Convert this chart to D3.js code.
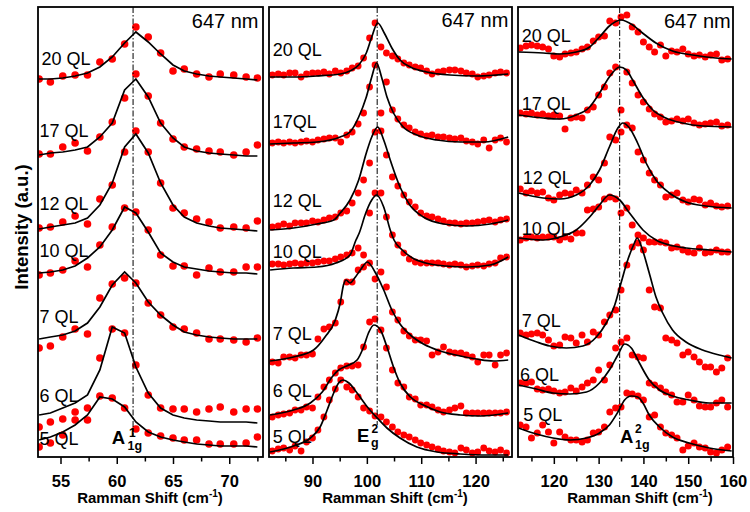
<!DOCTYPE html>
<html>
<head>
<meta charset="utf-8">
<script src="https://cdn.jsdelivr.net/npm/d3@7"></script>
<style>
  body { margin: 0; background: #fff; }
  text { font-family: "Liberation Sans", Arial, sans-serif; }
</style>
</head>
<body>
<svg id="chart" width="750" height="512"></svg>
<script>
"use strict"
/*
 * Raman spectra at 647 nm, stacked by film thickness, for three phonon modes
 * Red dots: measured spectra, black lines: fitted profiles */

// ---- data ----
var layers   = ["20 QL", "17 QL", "12 QL", "10 QL", "7 QL", "6 QL", "5 QL"];
var layersEg = ["20 QL", "17QL", "12 QL", "10 QL", "7 QL", "6 QL", "5 QL"];

// A1g(1) panel, fit evaluated at the measured shifts
var a1Shift = [53.1, 54.1, 55.2, 56.3, 57.4, 58.5, 59.6, 60.7, 61.7, 62.8, 63.9, 65.0, 66.0, 67.1, 68.2, 69.2, 70.4, 71.5, 72.5];
var a1Dots = [
  [378, 375, 381, 382, 382, 395, 398, 413, 430, 420, 404, 386, 388, 383, 380, 383, 382, 380, 379],
  [303, 303, 310, 314, 306, 320, 335, 359, 383, 361, 334, 318, 310, 308, 306, 305, 302, 305, 312],
  [229, 230, 235, 241, 233, 258, 272, 305, 326, 305, 274, 249, 244, 238, 235, 229, 230, 229, 236],
  [182, 184, 187, 196, 190, 212, 230, 249, 245, 227, 202, 191, 191, 182, 189, 185, 185, 190, 190],
  [109, 111, 120, 128, 123, 159, 173, 179, 174, 154, 142, 130, 128, 124, 118, 118, 117, 115, 119],
  [30, 35, 38, 45, 49, 99, 128, 124, 92, 62, 49, 48, 48, 45, 48, 50, 45, 48, 48],
  [10, 14, 22, 37, 37, 61, 59, 49, 28, 24, 21, 19, 17, 17, 13, 13, 13, 14, 20]
];
var a1Fit = [
  [378, 378, 379, 381, 384, 390, 400, 414, 425, 415, 403, 392, 386, 383, 381, 380, 379, 378, 377],
  [302, 304, 305, 307, 310, 320, 334, 367, 378, 360, 334, 319, 310, 306, 304, 303, 302, 301, 301],
  [228, 230, 232, 234, 239, 252, 274, 310, 323, 304, 274, 252, 240, 234, 231, 229, 228, 227, 226],
  [184, 185, 187, 191, 199, 210, 227, 250, 244, 225, 204, 195, 190, 188, 186, 185, 184, 184, 183],
  [118, 120, 122, 126, 134, 150, 172, 185, 174, 155, 142, 132, 125, 122, 120, 119, 118, 118, 118],
  [42, 44, 49, 54, 62, 87, 130, 124, 90, 64, 49, 42, 39, 37, 36, 35, 35, 35, 34],
  [17, 20, 25, 32, 42, 60, 58, 50, 35, 25, 20, 17, 15, 13, 12, 11, 11, 11, 10]
];
var a1Mode = 61.45;

// Eg(2) panel
var egShift = [82.6, 83.7, 84.7, 85.8, 86.8, 87.9, 88.9, 90.0, 91.0, 92.1, 93.1, 94.2, 95.2, 96.3, 97.3, 98.4, 99.4, 100.5, 101.5, 102.6, 103.6,
               104.7, 105.7, 106.8, 107.8, 108.9, 109.9, 111.0, 112.0, 113.1, 114.1, 115.2, 116.2, 117.3, 118.3, 119.4, 120.4, 121.5, 122.5, 123.6, 124.6, 125.7];
var egDots = [
  [382, 383, 382, 384, 384, 380, 383, 384, 384, 385, 383, 386, 384, 386, 389, 391, 399, 419, 434, 410, 404, 401, 398, 394, 392, 390, 389, 386, 383, 385, 386, 387, 387, 386, 384, 383, 380, 381, 382, 384, 385, 384],
  [314, 315, 314, 315, 314, 315, 316, 315, 317, 318, 319, 319, 315, 322, 325, 333, 344, 370, 392, 344, 375, 347, 338, 332, 329, 325, 323, 321, 322, 320, 320, 319, 318, 319, 316, 315, 313, 317, 309, 317, 319, 315],
  [230, 231, 233, 231, 234, 234, 234, 236, 235, 237, 239, 240, 244, 246, 254, 264, 277, 294, 325, 326, 302, 280, 271, 262, 255, 250, 244, 241, 240, 238, 236, 234, 234, 233, 234, 234, 235, 236, 237, 235, 237, 238],
  [193, 193, 192, 193, 194, 193, 194, 194, 195, 196, 196, 198, 200, 202, 204, 209, 202, 244, 264, 264, 240, 222, 212, 204, 198, 195, 194, 194, 194, 194, 193, 192, 193, 192, 190, 191, 192, 191, 193, 194, 199, 200],
  [95, 94, 100, 100, 99, 102, 102, 103, 118, 128, 130, 134, 155, 175, 175, 187, 190, 194, 178, 185, 170, 145, 137, 126, 121, 117, 117, 116, 102, 105, 110, 105, 104, 104, 102, 100, 95, 102, 102, 92, 102, 104],
  [40, 42, 43, 44, 47, 47, 50, 49, 60, 70, 77, 84, 89, 91, 91, 92, 110, 135, 138, 127, 109, 87, 74, 70, 60, 58, 52, 52, 50, 47, 45, 47, 49, 51, 44, 44, 44, 44, 44, 44, 44, 45],
  [6, 8, 9, 7, 11, 6, 15, 19, 27, 40, 57, 68, 77, 70, 67, 60, 49, 46, 41, 40, 35, 30, 25, 22, 20, 17, 14, 12, 10, 8, 6, 5, 4, 9, 7, 4, 5, 9, 6, 5, 7, 4]
];
var egFit = [
  [[82.2, 380], [86.5, 380], [90.8, 381], [95.1, 383], [96.9, 386], [98.5, 392], [99.9, 404], [100.9, 420], [102.0, 434], [103.2, 424], [104.6, 409], [106.1, 397], [108.0, 390], [111.0, 385], [115.3, 382], [120.2, 381], [126.0, 383]],
  [[82.2, 313], [86.5, 314], [90.8, 315], [95.1, 320], [96.9, 325], [98.5, 340], [99.9, 360], [100.9, 380], [101.8, 394], [102.7, 380], [103.7, 360], [104.9, 344], [106.7, 330], [109.2, 322], [112.9, 317], [117.2, 315], [121.5, 315], [126.0, 320]],
  [[82.2, 227], [86.5, 229], [90.8, 233], [93.9, 237], [95.1, 244], [96.9, 257], [98.5, 277], [99.9, 304], [100.9, 320], [102.0, 330], [103.1, 317], [104.3, 297], [106.1, 270], [107.9, 252], [110.4, 240], [114.1, 233], [118.4, 231], [122.7, 233], [126.0, 237]],
  [[82.2, 187], [86.5, 189], [90.8, 190], [94.3, 194], [96.9, 202], [98.0, 217], [98.6, 224], [99.8, 244], [100.9, 257], [101.8, 262], [103.1, 250], [104.3, 227], [105.0, 217], [106.5, 207], [108.4, 199], [110.8, 194], [114.5, 191], [118.4, 190], [122.7, 192], [126.0, 200]],
  [[82.2, 96], [86.5, 100], [90.2, 107], [92.3, 120], [94.2, 137], [95.1, 154], [95.7, 172], [96.2, 177], [96.9, 174], [97.9, 180], [98.8, 187], [100.1, 195], [101.5, 185], [103.1, 167], [104.6, 147], [106.1, 133], [108.0, 122], [110.4, 113], [113.5, 106], [117.2, 101], [120.2, 98], [123.3, 96], [126.0, 97]],
  [[82.2, 42], [86.5, 47], [89.6, 54], [91.8, 65], [93.6, 80], [94.8, 87], [96.3, 91], [98.2, 97], [99.4, 110], [100.3, 124], [101.3, 132], [102.5, 127], [103.7, 110], [104.9, 90], [106.1, 74], [108.0, 60], [110.4, 52], [113.5, 45], [117.2, 42], [120.9, 41], [126.0, 44]],
  [[82.2, 5], [86.5, 11], [89.6, 19], [91.4, 30], [92.7, 47], [93.9, 64], [94.8, 74], [95.6, 77], [96.7, 74], [98.2, 64], [100.1, 50], [101.9, 39], [103.7, 29], [106.1, 19], [109.2, 10], [112.9, 5], [117.2, 3], [122.1, 2], [126.0, 2]]
];
var egMode = 101.9;

// A1g(2) panel
var a2Shift = [112.5, 113.8, 115.0, 116.3, 117.5, 118.8, 120.0, 121.3, 122.5, 123.8, 125.0, 126.3, 127.5, 128.8, 130.0, 131.3, 132.5, 133.8, 135.0,
               136.3, 137.5, 138.8, 140.0, 141.3, 142.5, 143.8, 145.0, 146.3, 147.5, 148.8, 150.0, 151.3, 152.5, 153.8, 155.0, 156.3, 157.5, 158.8];
var a2Dots = [
  [409, 411, 412, 411, 410, 408, 401, 400, 403, 404, 405, 408, 410, 416, 420, 421, 436, 434, 440, 442, 430, 425, 415, 410, 405, 412, 401, 406, 405, 408, 403, 401, 402, 400, 402, 403, 397, 398],
  [344, 343, 344, 342, 343, 341, 342, 341, 328, 339, 340, 339, 347, 350, 362, 370, 384, 390, 347, 385, 374, 362, 355, 348, 343, 340, 335, 336, 338, 336, 338, 334, 332, 333, 334, 335, 331, 332],
  [268, 264, 266, 264, 265, 259, 257, 262, 264, 263, 267, 264, 272, 280, 277, 294, 320, 317, 325, 332, 329, 305, 297, 284, 277, 272, 260, 262, 264, 257, 255, 258, 257, 252, 254, 251, 250, 251],
  [217, 219, 220, 219, 220, 220, 220, 217, 220, 218, 224, 224, 247, 248, 250, 258, 260, 258, 244, 249, 232, 222, 219, 215, 215, 215, 214, 209, 210, 207, 205, 204, 209, 204, 205, 207, 205, 205],
  [124, 122, 123, 124, 122, 117, 111, 112, 120, 119, 114, 122, 115, 125, 122, 135, 142, 147, 167, 192, 210, 214, 207, 167, 150, 149, 119, 117, 114, 102, 105, 100, 95, 90, 90, 85, 89, 99],
  [74, 74, 75, 68, 67, 68, 66, 64, 65, 69, 66, 70, 74, 77, 87, 77, 92, 109, 115, 119, 102, 100, 99, 74, 72, 69, 65, 62, 55, 55, 62, 57, 51, 50, 50, 54, 57, 50],
  [32, 30, 19, 24, 32, 25, 14, 25, 20, 17, 17, 15, 17, 24, 25, 30, 45, 49, 50, 64, 63, 61, 57, 40, 42, 30, 24, 22, 19, 7, 11, 14, 10, 9, 5, 4, 7, 10]
];
var a2Fit = [
  [[112.1, 405], [117.6, 404], [121.3, 403], [125.0, 405], [128.0, 410], [130.2, 420], [132.4, 431], [135.0, 437], [137.6, 432], [139.8, 424], [142.8, 414], [146.5, 406], [151.0, 402], [156.1, 399], [159.7, 398]],
  [[112.1, 342], [117.6, 339], [121.3, 338], [125.0, 342], [128.0, 350], [130.2, 364], [132.4, 380], [134.7, 390], [136.2, 387], [137.6, 377], [139.8, 360], [142.1, 347], [145.0, 339], [148.7, 334], [153.2, 331], [159.7, 330]],
  [[112.1, 264], [117.6, 259], [121.3, 258], [125.0, 262], [128.0, 272], [130.2, 287], [132.4, 310], [134.3, 329], [135.4, 334], [136.9, 329], [138.7, 314], [140.6, 294], [142.8, 277], [145.8, 264], [149.5, 255], [153.9, 251], [159.7, 249]],
  [[112.1, 219], [117.6, 217], [121.3, 220], [125.0, 227], [128.0, 240], [130.2, 252], [132.4, 262], [134.7, 257], [136.9, 244], [139.9, 227], [142.8, 217], [145.8, 212], [149.5, 209], [154.7, 207], [159.7, 205]],
  [[112.1, 122], [116.2, 115], [119.1, 111], [122.8, 109], [126.5, 111], [129.5, 120], [131.7, 134], [133.6, 152], [135.0, 174], [136.5, 197], [137.9, 213], [138.6, 219], [139.8, 207], [141.3, 184], [142.8, 160], [144.3, 144], [146.5, 127], [149.5, 115], [153.2, 107], [156.9, 102], [159.7, 99]],
  [[112.1, 72], [116.1, 68], [119.8, 64], [123.6, 63], [127.3, 65], [130.2, 74], [132.4, 87], [134.3, 102], [135.8, 113], [137.3, 109], [139.1, 94], [141.3, 77], [143.6, 67], [146.5, 61], [150.2, 57], [154.7, 54], [159.7, 54]],
  [[112.1, 29], [116.1, 23], [119.8, 19], [123.6, 17], [127.3, 19], [130.2, 24], [132.4, 32], [134.3, 45], [135.8, 57], [137.3, 61], [138.7, 60], [139.9, 54], [141.3, 42], [143.6, 30], [146.5, 20], [150.2, 14], [154.7, 9], [159.7, 6]]
];
var a2Mode = 134.7;

// ---- layout ----
var svg = d3.select("svg#chart"),
    frameTop = 7,
    frameBottom = 457,
    y = d3.scaleLinear().domain([0, 450]).range([frameBottom, frameTop]);

var panels = [
  { domain: [53, 73], left: 38, right: 263, major: [55, 60, 65, 70], minor: [57.5, 62.5, 67.5, 72.5],
    shift: a1Shift, dots: a1Dots, fits: a1Fit.map(function(f) { return d3.zip(a1Shift, f); }),
    curve: d3.curveLinear, r: 3.8, mode: a1Mode, modeEnd: 437, names: layers,
    labelX: [41.5, 39.5, 39.5, 39.5, 39.5, 39.5, 39.5], labelY: [65, 136.7, 209.5, 256.7, 323.3, 402, 444.5],
    noteX: 258.5, noteY: 28.3, titleX: 150,
    peak: { base: "A", sup: "1", sub: "1g", x: 111.7, supX: 129, subX: 127.5, y: 444, supY: 436.5, subY: 449.5 } },
  { domain: [82, 126.7], left: 269, right: 512, major: [90, 100, 110, 120], minor: [85, 95, 105, 115, 125],
    shift: egShift, dots: egDots, fits: egFit,
    curve: d3.curveMonotoneX, r: 3.4, mode: egMode, modeEnd: 425, names: layersEg,
    labelX: [272.7, 272.7, 272.7, 272.7, 272.7, 272.7, 272.7], labelY: [56, 128.3, 206.7, 258.3, 340, 396.7, 443.3],
    noteX: 508.3, noteY: 26.7, titleX: 395,
    peak: { base: "E", sup: "2", sub: "g", x: 357, supX: 371.5, subX: 371, y: 441.7, supY: 432.7, subY: 446.7 } },
  { domain: [112, 160], left: 518, right: 733, major: [120, 130, 140, 150, 160], minor: [115, 125, 135, 145, 155],
    shift: a2Shift, dots: a2Dots, fits: a2Fit,
    curve: d3.curveMonotoneX, r: 3.5, mode: a2Mode, modeEnd: 427, names: layers,
    labelX: [521.7, 521.7, 522.7, 521.7, 521.7, 520, 523.3], labelY: [41.7, 110, 184.3, 235, 327.3, 380.7, 421],
    noteX: 730.7, noteY: 28.3, titleX: 640,
    peak: { base: "A", sup: "2", sub: "1g", x: 620, supX: 635, subX: 635, y: 442.7, supY: 432.7, subY: 449.3 } }
];

panels.forEach(function(p, k) {
  var x = d3.scaleLinear().domain(p.domain).range([p.left, p.right]);

  svg.append("clipPath").attr("id", "clip" + k)
    .append("rect")
      .attr("x", p.left).attr("y", frameTop)
      .attr("width", p.right - p.left).attr("height", frameBottom - frameTop);

  var plot = svg.append("g").attr("clip-path", "url(#clip" + k + ")");

  // measured spectra
  p.dots.forEach(function(series) {
    plot.append("g")
      .selectAll("circle")
        .data(series)
      .enter().append("circle")
        .attr("cx", function(d, i) { return x(p.shift[i]); })
        .attr("cy", function(d) { return y(d); })
        .attr("r", p.r)
        .attr("fill", "#ff0000");
  });

  // fitted profiles
  var line = d3.line()
      .x(function(d) { return x(d[0]); })
      .y(function(d) { return y(d[1]); })
      .curve(p.curve);

  plot.selectAll("path.fit")
      .data(p.fits)
    .enter().append("path")
      .attr("class", "fit")
      .attr("d", line)
      .attr("fill", "none")
      .attr("stroke", "#000")
      .attr("stroke-width", 1.7);

  // mode position
  svg.append("line")
      .attr("x1", x(p.mode)).attr("x2", x(p.mode))
      .attr("y1", frameTop).attr("y2", p.modeEnd)
      .attr("stroke", "#000")
      .attr("stroke-width", 1)
      .attr("stroke-dasharray", "6,2,1.5,2");

  // frame
  svg.append("rect")
      .attr("x", p.left).attr("y", frameTop)
      .attr("width", p.right - p.left).attr("height", frameBottom - frameTop)
      .attr("fill", "none")
      .attr("stroke", "#000")
      .attr("stroke-width", 1.8);

  // axes
  var gx = svg.append("g")
      .attr("transform", "translate(0," + frameBottom + ")")
      .call(d3.axisBottom(x).tickValues(p.major).tickSize(7).tickPadding(11).tickFormat(d3.format("d")));
  gx.select(".domain").remove();
  gx.selectAll("line").attr("stroke-width", 1.5);
  gx.attr("font-family", null).attr("font-size", null);
  gx.selectAll("text")
      .attr("font-size", 16.5)
      .attr("font-weight", "bold")
      .attr("fill", "#000");

  var gm = svg.append("g")
      .attr("transform", "translate(0," + frameBottom + ")")
      .call(d3.axisBottom(x).tickValues(p.minor).tickSize(4.5).tickFormat(""));
  gm.select(".domain").remove();
  gm.selectAll("line").attr("stroke-width", 1.5);

  var title = svg.append("text")
      .attr("x", p.titleX).attr("y", 503.3)
      .attr("text-anchor", "middle")
      .attr("font-size", 15)
      .attr("font-weight", "bold");
  title.append("tspan").text("Ramman Shift (cm");
  title.append("tspan").attr("font-size", 10).attr("dy", -6).text("-1");
  title.append("tspan").attr("dy", 6).text(")");

  // thickness labels
  svg.append("g")
    .selectAll("text")
      .data(p.names)
    .enter().append("text")
      .attr("x", function(d, i) { return p.labelX[i]; })
      .attr("y", function(d, i) { return p.labelY[i]; })
      .attr("font-size", 18)
      .text(function(d) { return d; });

  svg.append("text")
      .attr("x", p.noteX).attr("y", p.noteY)
      .attr("text-anchor", "end")
      .attr("font-size", 20)
      .text("647 nm");

  // mode name
  var pk = p.peak;
  svg.append("text").attr("x", pk.x).attr("y", pk.y)
      .attr("font-size", 18.5).attr("font-weight", "bold").text(pk.base);
  svg.append("text").attr("x", pk.supX).attr("y", pk.supY)
      .attr("font-size", 12).attr("font-weight", "bold").text(pk.sup);
  svg.append("text").attr("x", pk.subX).attr("y", pk.subY)
      .attr("font-size", 12.5).attr("font-weight", "bold").text(pk.sub);
});

svg.append("text")
    .attr("transform", "translate(28,227) rotate(-90)")
    .attr("text-anchor", "middle")
    .attr("font-size", 18.5)
    .attr("font-weight", "bold")
    .text("Intensity (a.u.)");
</script>
</body>
</html>
